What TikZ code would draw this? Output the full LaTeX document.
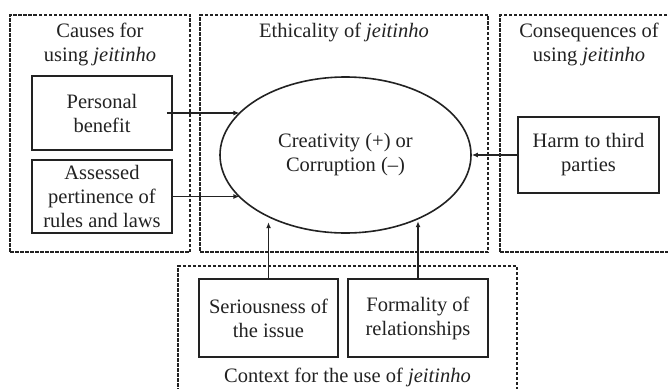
\documentclass[tikz,border=0pt]{standalone}
\usepackage{fontspec}
\setmainfont{Liberation Serif}
\usetikzlibrary{shapes.geometric,arrows.meta}
\newcommand\dfont{\fontsize{20.5}{24}\selectfont}
\definecolor{ink}{HTML}{222222}
\begin{document}
\begin{tikzpicture}[x=1pt,y=-1pt,
  frame/.style={draw=ink,line width=1.3pt,dash pattern=on 3.5pt off 1.5pt,inner sep=0pt},
  box/.style={draw=ink,line width=1.6pt,inner sep=0pt,align=center,font=\dfont,text=ink},
  lbl/.style={align=center,font=\dfont,inner sep=0pt,text=ink},
  arr/.style={draw=ink,line width=1.3pt,-{Latex[length=6pt,width=5pt]}}]
\useasboundingbox (0,0) rectangle (668,388);
\clip (0,0) rectangle (668,388);
\fill[white] (0,0) rectangle (668,388);
% group frames
\node[frame,minimum width=180pt,minimum height=237pt] (fl) at (100,133.5) {};
\node[frame,minimum width=288pt,minimum height=237pt] (fm) at (344,133.5) {};
\node[frame,minimum width=190pt,minimum height=237pt] (fr) at (595,133.5) {};
\node[frame,minimum width=339pt,minimum height=130pt] (fb) at (347.5,331) {};
% frame titles
\node[lbl] (tl) at (100,44) {Causes for\\using \textit{jeitinho}};
\node[lbl] (tm) at (344,32) {Ethicality of \textit{jeitinho}};
\node[lbl] (tr) at (589,44) {Consequences of\\using \textit{jeitinho}};
\node[lbl] (tb) at (347.5,377) {Context for the use of \textit{jeitinho}};
% boxes
\node[box,minimum width=140pt,minimum height=74pt] (pb) at (102,113) {Personal\\benefit};
\node[box,minimum width=140pt,minimum height=73pt] (ap) at (102,196.5) {Assessed\\pertinence of\\rules and laws};
\node[box,minimum width=141pt,minimum height=76pt] (harm) at (588.5,155) {Harm to third\\parties};
\node[box,minimum width=139pt,minimum height=78pt] (sb) at (268.5,318) {Seriousness of\\the issue};
\node[box,minimum width=140pt,minimum height=78pt] (fo) at (418,318) {Formality of\\relationships};
\node[box,ellipse,minimum width=251pt,minimum height=156pt] (ell) at (345.5,155) {Creativity (+) or\\Corruption (--)};
% connectors
\draw[arr,shorten <=-6pt] (pb.east) -- (pb.east -| ell.158);
\draw[arr] (ap.east) -- (ap.east -| ell.202);
\draw[arr] (harm.west) -- (ell.east);
\draw[arr,shorten >=4pt] (sb.north) -- (sb.north |- ell.220);
\draw[arr,shorten >=3pt] (fo.north) -- (fo.north |- ell.320);
\end{tikzpicture}
\end{document}
